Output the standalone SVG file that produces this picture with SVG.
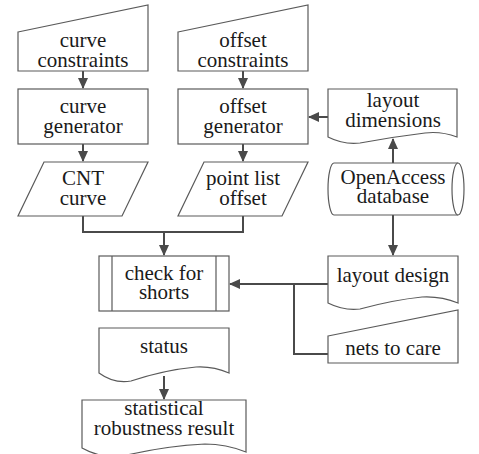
<svg xmlns="http://www.w3.org/2000/svg" width="479" height="454" viewBox="0 0 479 454">
<style>
.s{fill:#fff;stroke:#5a5a5a;stroke-width:1.2}
.c{fill:none;stroke:#4a4a4a;stroke-width:2}
.t text{font-size:21px;fill:#1a1a1a;text-anchor:middle}
</style>
<defs>
<marker id="a" markerWidth="11" markerHeight="11" refX="10" refY="5.5" orient="auto" markerUnits="userSpaceOnUse">
<path d="M0,0.5 L11,5.5 L0,10.5 Z" fill="#4a4a4a"/>
</marker>
</defs>
<rect width="479" height="454" fill="#fff"/>
<g id="connectors">
<path class="c" d="M83,71 V88" marker-end="url(#a)"/>
<path class="c" d="M83,144 V161" marker-end="url(#a)"/>
<path class="c" d="M243,71 V88" marker-end="url(#a)"/>
<path class="c" d="M243,144 V161" marker-end="url(#a)"/>
<path class="c" d="M83,216 V232 H243 V216"/>
<path class="c" d="M164,232 V255" marker-end="url(#a)"/>
<path class="c" d="M328,117 H309" marker-end="url(#a)"/>
<path class="c" d="M393,163 V139" marker-end="url(#a)"/>
<path class="c" d="M393,215 V255" marker-end="url(#a)"/>
<path class="c" d="M328,284 H230" marker-end="url(#a)"/>
<path class="c" d="M328,354 H294 V284"/>
<path class="c" d="M164,376 V399" marker-end="url(#a)"/>
</g>
<g class="t" font-family="'Liberation Serif', 'Times New Roman', serif">
<g id="curve-constraints">
<path class="s" d="M18,32 L148,5 V71 H18 Z"/>
<text x="83" y="47">curve</text>
<text x="83" y="67">constraints</text>
</g>
<g id="offset-constraints">
<path class="s" d="M178,32 L308,5 V71 H178 Z"/>
<text x="243" y="47">offset</text>
<text x="243" y="67">constraints</text>
</g>
<g id="curve-generator">
<rect class="s" x="18" y="89" width="130" height="55"/>
<text x="83" y="113">curve</text>
<text x="83" y="133">generator</text>
</g>
<g id="offset-generator">
<rect class="s" x="178" y="89" width="130" height="55"/>
<text x="243" y="113">offset</text>
<text x="243" y="133">generator</text>
</g>
<g id="cnt-curve">
<path class="s" d="M44,162 H148 L122,216 H18 Z"/>
<text x="83" y="185">CNT</text>
<text x="83" y="205">curve</text>
</g>
<g id="point-list-offset">
<path class="s" d="M204,162 H308 L282,216 H178 Z"/>
<text x="243" y="185">point list</text>
<text x="243" y="205">offset</text>
</g>
<g id="layout-dimensions">
<path class="s" d="M328,89 H457 V137 Q441,131 425,133 Q392,137 360,143 Q344,145 328,137 Z"/>
<text x="393" y="107">layout</text>
<text x="393" y="127">dimensions</text>
</g>
<g id="openaccess-database">
<path class="s" d="M334,163 H458 A6,26 0 0 1 458,215 H334 A6,26 0 0 1 334,163 Z"/>
<path class="s" fill="none" d="M458,163 A6,26 0 0 0 458,215"/>
<text x="393" y="184">OpenAccess</text>
<text x="393" y="203">database</text>
</g>
<g id="check-for-shorts">
<rect class="s" x="99" y="256" width="130" height="55"/>
<path class="s" d="M112,256 V311 M216,256 V311"/>
<text x="164" y="280">check for</text>
<text x="164" y="299">shorts</text>
</g>
<g id="layout-design">
<path class="s" d="M328,256 H458 V303 Q441,296 422,297 Q393,300 360,309 Q344,311 328,303 Z"/>
<text x="393" y="282">layout design</text>
</g>
<g id="nets-to-care">
<path class="s" d="M328,336 L458,310 V363 H328 Z"/>
<text x="393" y="355">nets to care</text>
</g>
<g id="status">
<path class="s" d="M99,328 H229 V373 Q213,366 196,367 Q164,370 131,381 Q114,384 99,373 Z"/>
<text x="164" y="353">status</text>
</g>
<g id="statistical-robustness-result">
<path class="s" d="M82,400 H246 V452 Q226,444 205,444 Q164,446 123,456 Q102,459 82,448 Z"/>
<text x="164" y="415">statistical</text>
<text x="164" y="435">robustness result</text>
</g>
</g>
</svg>
